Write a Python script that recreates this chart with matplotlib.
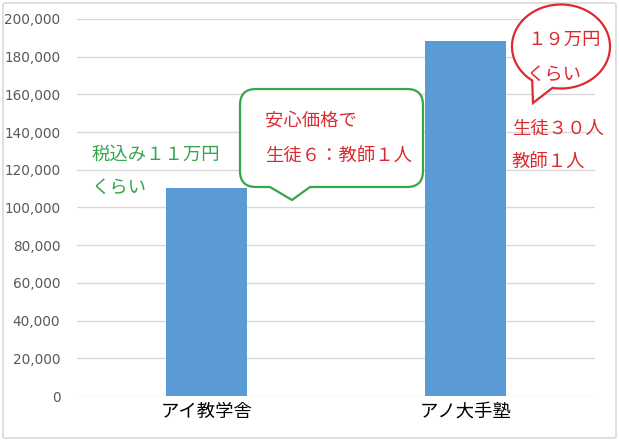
import matplotlib

matplotlib.use("Agg")
import matplotlib.pyplot as plt
import numpy as np
from matplotlib.patches import FancyBboxPatch, PathPatch
from matplotlib.path import Path

plt.rcParams["font.family"] = ["Noto Sans CJK JP", "DejaVu Sans"]

categories = ["アイ教学舎", "アノ大手塾"]
prices = [110500, 188500]
yticks = [0, 20000, 40000, 60000, 80000, 100000, 120000, 140000, 160000, 180000, 200000]

W, H = 619, 441
BAR_COLOR = "#5B9BD5"
GREEN = "#35A64C"
RED = "#DC2A30"


def px(x, y):
    # pixel coords (top-left origin) -> figure fraction
    return x / W, 1 - y / H


fig = plt.figure(figsize=(W / 100, H / 100), dpi=100)
ax = fig.add_axes([77 / W, 1 - 396 / H, 518 / W, 377 / H])

x = np.arange(len(categories))
ax.bar(x, prices, width=0.316, color=BAR_COLOR, zorder=3)
ax.set_xlim(-0.5, 1.5)
ax.set_ylim(0, 200000)
ax.set_yticks(yticks)
ax.set_yticklabels([f"{v:,}" for v in yticks], color="#595959", fontsize=9.8,
                   family=["DejaVu Sans"])
ax.set_xticks(x)
ax.set_xticklabels(categories, fontsize=13.2, color="#000000")
ax.tick_params(axis="both", length=0)
ax.tick_params(axis="y", pad=12)
ax.tick_params(axis="x", pad=5)
ax.grid(axis="y", color="#D9D9D9", linewidth=1.0, zorder=0)
for s in ax.spines.values():
    s.set_visible(False)

# outer chart border
border = FancyBboxPatch(px(3, 438), 613 / W, 435 / H, boxstyle="round,pad=0,rounding_size=0.004",
                        transform=fig.transFigure, fill=False, edgecolor="#D9D9D9", linewidth=1.2)
fig.add_artist(border)

# green speech bubble (rounded rect with downward pointer)
x0, x1, y0, y1, r = 240, 423, 89, 187, 16
verts = [
    (x0 + r, y0), (x1 - r, y0), (x1, y0), (x1, y0 + r),
    (x1, y1 - r), (x1, y1), (x1 - r, y1),
    (310, y1), (292, 200), (270, y1),
    (x0 + r, y1), (x0, y1), (x0, y1 - r),
    (x0, y0 + r), (x0, y0), (x0 + r, y0),
]
codes = [
    Path.MOVETO, Path.LINETO, Path.CURVE3, Path.CURVE3,
    Path.LINETO, Path.CURVE3, Path.CURVE3,
    Path.LINETO, Path.LINETO, Path.LINETO,
    Path.LINETO, Path.CURVE3, Path.CURVE3,
    Path.LINETO, Path.CURVE3, Path.CURVE3,
]
bubble = PathPatch(Path([px(*v) for v in verts], codes), transform=fig.transFigure,
                   facecolor="white", edgecolor=GREEN, linewidth=1.6, zorder=5)
fig.add_artist(bubble)

# red oval callout with tail
cx, cy, a, b = 561, 46.5, 49, 42
t = np.radians(np.linspace(126, 460, 120))
oval = [(cx + a * np.cos(v), cy + b * np.sin(v)) for v in t]
oval.append((533, 103))
oval.append(oval[0])
ocodes = [Path.MOVETO] + [Path.LINETO] * (len(oval) - 2) + [Path.CLOSEPOLY]
callout = PathPatch(Path([px(*v) for v in oval], ocodes), transform=fig.transFigure,
                    facecolor="white", edgecolor=RED, linewidth=1.6, zorder=5)
fig.add_artist(callout)

fs = 13.2
texts = [
    (92, 155, "税込み１１万円", GREEN),
    (92, 188, "くらい", GREEN),
    (265, 120, "安心価格で", RED),
    (265, 157, "生徒６：教師１人", RED),
    (527, 40, "１９万円", RED),
    (527, 75, "くらい", RED),
    (512, 129, "生徒３０人", RED),
    (512, 163, "教師１人", RED),
]
for tx, ty, s, c in texts:
    fig.text(*px(tx, ty), s, color=c, fontsize=fs, ha="left", va="center", zorder=6)

fig.savefig("out.png", dpi=100)
